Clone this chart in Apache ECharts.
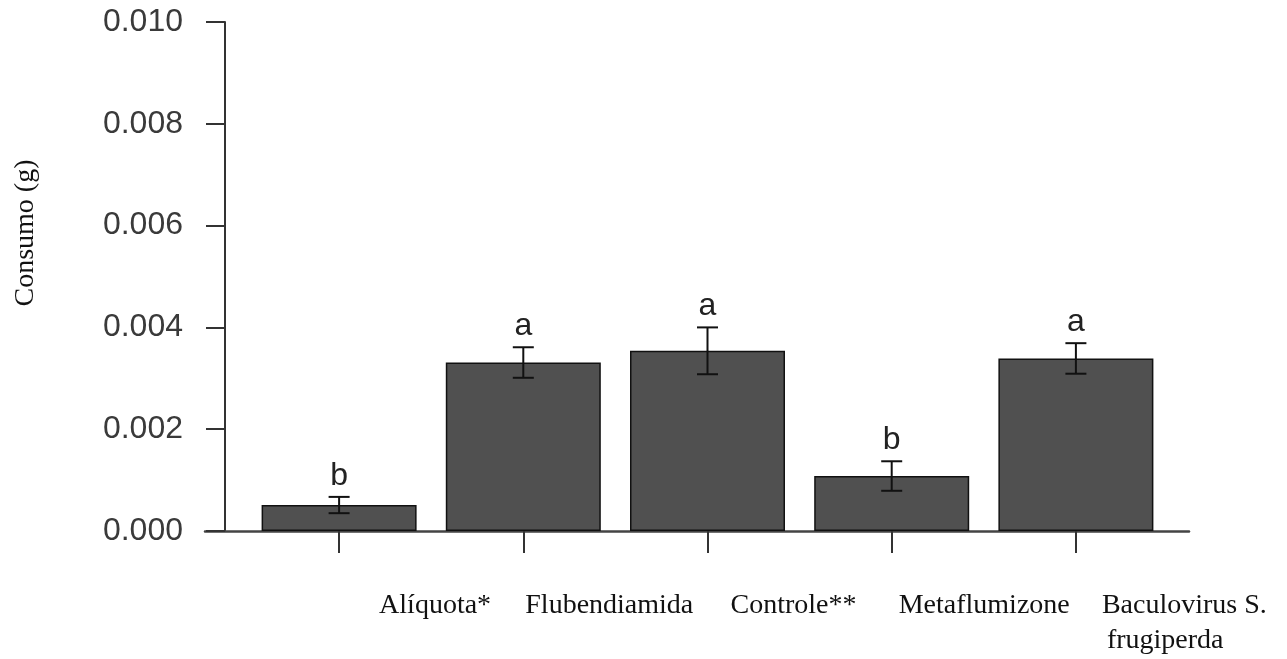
<!DOCTYPE html>
<html>
<head>
<meta charset="utf-8">
<script src="https://cdn.jsdelivr.net/npm/echarts@6/dist/echarts.min.js"></script>
<style>
html,body{margin:0;padding:0;background:#fff;}
#chart{width:1287px;height:659px;}
</style>
</head>
<body>
<div id="chart"></div>
<script>
// ---- data ----
const categories = ['Alíquota*', 'Flubendiamida', 'Controle**', 'Metaflumizone', 'Baculovirus S.\nfrugiperda'];
const means = [0.00051, 0.00331, 0.00354, 0.00108, 0.00339];
const errors = [0.00016, 0.00030, 0.00046, 0.00029, 0.00030];
const letters = ['b', 'a', 'a', 'b', 'a'];
const yTicks = [0, 0.002, 0.004, 0.006, 0.008, 0.010];
const yTitle = 'Consumo (g)';

// ---- layout/styles ----
const labelPadLeft = [40, 2, 23, 7, 26];
const secondLinePadLeft = 31;
const serif = '"Liberation Serif", "Times New Roman", serif';
const sans = '"Liberation Sans", Arial, sans-serif';

const rich = {};
labelPadLeft.forEach((p, i) => {
  rich['c' + i] = { padding: [0, 0, 0, p], fontFamily: serif, fontSize: 28, color: '#111', lineHeight: 35 };
});
rich.f = { padding: [0, 0, 0, secondLinePadLeft], fontFamily: serif, fontSize: 28, color: '#111', lineHeight: 35 };

const chart = echarts.init(document.getElementById('chart'));
chart.setOption({
  backgroundColor: '#fff',
  animation: false,
  grid: [
    { left: 247, right: 119, top: 22, bottom: 128 },
    { left: 205, right: 98, top: 22, bottom: 128 }
  ],
  xAxis: [
    {
      type: 'category', gridIndex: 0, data: categories,
      axisLine: { show: false },
      axisTick: { show: true, alignWithLabel: true, length: 22, lineStyle: { color: '#333', width: 2 } },
      axisLabel: {
        align: 'left', margin: 57, interval: 0,
        formatter: function (v, i) {
          const parts = v.split('\n');
          let s = '{c' + i + '|' + parts[0] + '}';
          if (parts.length > 1) s += '\n{f|' + parts[1] + '}';
          return s;
        },
        rich: rich
      },
      splitLine: { show: false }
    },
    {
      type: 'value', gridIndex: 1, min: 0, max: 1,
      axisLine: { show: true, onZero: false, lineStyle: { color: '#444', width: 2.5 } },
      axisTick: { show: false }, axisLabel: { show: false }, splitLine: { show: false }
    }
  ],
  yAxis: [
    {
      type: 'value', gridIndex: 0, min: 0, max: 0.010, interval: 0.002, offset: 22,
      axisLine: { show: true, lineStyle: { color: '#333', width: 2 } },
      axisTick: { show: true, length: 19, lineStyle: { color: '#333', width: 2 } },
      axisLabel: {
        margin: 42, fontFamily: sans, fontSize: 32, color: '#3a3a3a',
        formatter: function (v) {
          const t = yTicks.find(x => Math.abs(x - v) < 1e-9);
          return (t !== undefined ? t : v).toFixed(3);
        }
      },
      splitLine: { show: false }
    },
    {
      type: 'value', gridIndex: 1, min: 0, max: 1, show: false
    }
  ],
  series: [
    {
      type: 'bar', xAxisIndex: 0, yAxisIndex: 0, data: means, barWidth: 155,
      itemStyle: { color: '#505050', borderColor: '#111', borderWidth: 1.5 },
      z: 2
    },
    {
      type: 'custom', xAxisIndex: 0, yAxisIndex: 0, z: 5,
      data: means.map((m, i) => [i, m, errors[i]]),
      renderItem: function (params, api) {
        const i = api.value(0), m = api.value(1), e = api.value(2);
        const top = api.coord([i, m + e]);
        const bot = api.coord([i, m - e]);
        const hw = 10.5;
        const st = { stroke: '#111', lineWidth: 2 };
        return {
          type: 'group',
          children: [
            { type: 'line', shape: { x1: top[0], y1: top[1], x2: bot[0], y2: bot[1] }, style: st },
            { type: 'line', shape: { x1: top[0] - hw, y1: top[1], x2: top[0] + hw, y2: top[1] }, style: st },
            { type: 'line', shape: { x1: bot[0] - hw, y1: bot[1], x2: bot[0] + hw, y2: bot[1] }, style: st },
            { type: 'text', x: top[0], y: top[1] - 5,
              style: { text: letters[params.dataIndex], font: '32px ' + sans, fill: '#222', align: 'center', verticalAlign: 'bottom' } }
          ]
        };
      }
    }
  ],
  graphic: [
    {
      type: 'text', x: 26, y: 233, rotation: Math.PI / 2,
      style: { text: yTitle, font: '28px ' + serif, fill: '#111', align: 'center', verticalAlign: 'middle' }
    }
  ]
});
</script>
</body>
</html>
